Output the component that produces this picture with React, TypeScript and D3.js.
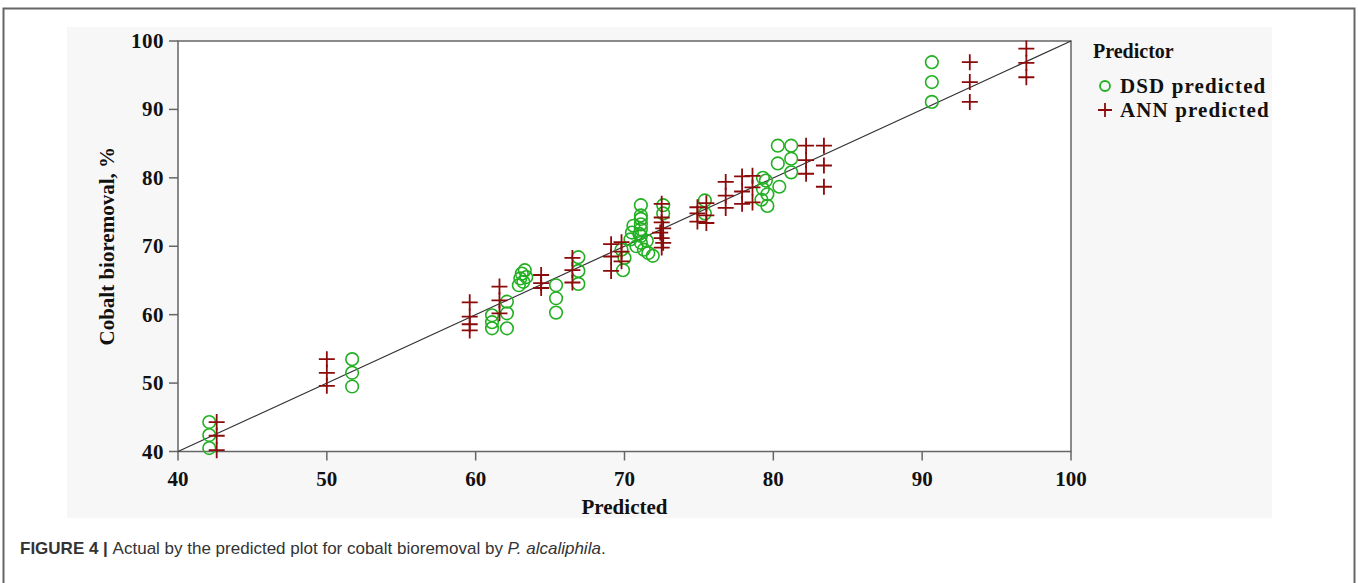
import React from 'react';
import * as d3 from 'd3';

// values (x = predicted, y = actual cobalt bioremoval %)
const dsdPredicted = [
  42.1, 42.1, 42.1,
  51.7, 51.7, 51.7,
  61.1, 61.1, 61.1, 62.1, 62.1, 62.1,
  62.9, 63.0, 63.1, 63.3, 63.4, 63.2,
  65.4, 65.4, 65.4,
  66.9, 66.9, 66.9,
  69.9, 70.0, 69.8,
  71.1, 71.1, 71.1, 71.1, 71.1, 71.1, 71.1, 70.6, 70.5, 70.4, 70.8, 71.3, 71.6, 71.9, 71.5, 71.0,
  72.6, 72.6,
  75.4, 75.4,
  79.3, 79.5, 79.3, 79.6, 79.2, 79.6, 80.4,
  80.3, 80.3, 81.2, 81.2, 81.2,
  90.65, 90.65, 90.65,
];
const dsdActual = [
  44.3, 42.4, 40.5,
  53.5, 51.5, 49.5,
  59.9, 58.9, 58.0, 61.9, 60.2, 58.0,
  64.3, 65.3, 66.0, 66.5, 65.5, 64.8,
  64.3, 62.4, 60.3,
  68.4, 66.4, 64.5,
  66.5, 68.3, 69.5,
  76.0, 74.5, 74.0, 73.2, 72.5, 71.5, 70.5, 73.0, 72.0, 71.0, 70.0, 69.5, 69.0, 68.6, 70.8, 71.8,
  76.0, 74.8,
  76.7, 74.8,
  80.0, 79.6, 78.4, 77.6, 76.8, 75.9, 78.7,
  84.7, 82.1, 84.7, 82.8, 80.8,
  96.9, 94.0, 91.1,
];
const annPredicted = [
  42.6, 42.6, 42.6,
  50.0, 50.0, 50.0,
  59.6, 59.6, 59.6, 59.6,
  61.6, 61.6, 61.6,
  64.4, 64.4, 64.4,
  66.5, 66.5, 66.5,
  69.1, 69.1, 69.1, 69.8, 69.8, 69.8,
  72.5, 72.5, 72.5, 72.6, 72.4, 72.5, 72.6, 72.5,
  74.9, 74.9, 74.9, 75.5, 75.5, 75.5,
  76.8, 76.8, 76.8, 77.9, 77.9, 77.9, 78.6, 78.6, 78.6,
  82.2, 82.2, 82.2, 83.4, 83.4, 83.4,
  93.2, 93.2, 93.2,
  97.0, 97.0, 97.0,
];
const annActual = [
  44.3, 42.3, 40.2,
  53.5, 51.5, 49.6,
  61.8, 59.7, 58.6, 57.7,
  64.1, 62.1, 60.2,
  65.8, 64.6, 63.9,
  68.3, 66.5, 64.7,
  70.3, 68.5, 66.4, 70.6, 69.2, 67.8,
  76.2, 74.2, 73.5, 72.6, 72.0, 71.2, 70.5, 69.8,
  75.7, 74.8, 73.6, 76.3, 74.5, 73.4,
  79.4, 77.4, 75.6, 80.2, 78.0, 76.2, 80.3, 78.6, 76.4,
  84.7, 82.6, 80.6, 84.7, 81.8, 78.7,
  96.9, 94.0, 91.1,
  98.9, 96.8, 94.7,
];
const xTicks = [40, 50, 60, 70, 80, 90, 100];
const yTicks = [40, 50, 60, 70, 80, 90, 100];
const legendLabels = ['DSD predicted', 'ANN predicted'];

const green = '#22b022';
const darkRed = '#8b0a0a';
const serif = '"Liberation Serif", "Times New Roman", serif';

const Cross = ({ x, y, s }: { x: number; y: number; s: number }) => (
  <path d={`M${x - s},${y}H${x + s}M${x},${y - s}V${y + s}`} stroke={darkRed} strokeWidth={1.8} fill="none" />
);

export default function App() {
  const left = 178, right = 1071, top = 41, bottom = 451.5;
  const x = d3.scaleLinear().domain([40, 100]).range([left, right]);
  const y = d3.scaleLinear().domain([40, 100]).range([bottom, top]);

  return (
    <div style={{ position: 'absolute', left: 0, top: 0 }}>
      <svg width={1358} height={583} style={{ display: 'block', background: '#fff' }}>
        {/* outer figure frame */}
        <path d="M3.5,600V8.5H1354.5V600" fill="none" stroke="#666" strokeWidth={2} />
        {/* grey panel */}
        <rect x={67} y={27} width={1205} height={491} fill="#f7f7f7" />
        <rect x={left} y={top} width={right - left} height={bottom - top} fill="#fff" stroke="#666" strokeWidth={1.5} />

        {/* ticks */}
        {xTicks.map(t => (
          <g key={'x' + t}>
            <line x1={x(t)} x2={x(t)} y1={bottom} y2={bottom + 9} stroke="#666" strokeWidth={1.5} />
            <text x={x(t)} y={bottom + 34} textAnchor="middle" fontFamily={serif} fontWeight="bold" fontSize={21} fill="#111">{t}</text>
          </g>
        ))}
        {yTicks.map(t => (
          <g key={'y' + t}>
            <line x1={left - 9} x2={left} y1={y(t)} y2={y(t)} stroke="#666" strokeWidth={1.5} />
            <text x={left - 14} y={y(t) + 7} textAnchor="end" fontFamily={serif} fontWeight="bold" fontSize={21} fill="#111" letterSpacing={0.5}>{t}</text>
          </g>
        ))}

        {/* identity line */}
        <line x1={x(40)} y1={y(40)} x2={x(100)} y2={y(100)} stroke="#333" strokeWidth={1.2} />

        {/* points */}
        {dsdPredicted.map((p, i) => (
          <circle key={'d' + i} cx={x(p)} cy={y(dsdActual[i])} r={6.3} fill="none" stroke={green} strokeWidth={1.6} />
        ))}
        {annPredicted.map((p, i) => (
          <Cross key={'a' + i} x={x(p)} y={y(annActual[i])} s={8} />
        ))}

        {/* axis titles */}
        <text x={(left + right) / 2} y={514} textAnchor="middle" fontFamily={serif} fontWeight="bold" fontSize={21} fill="#111">Predicted</text>
        <text transform={`translate(114,${(top + bottom) / 2}) rotate(-90)`} textAnchor="middle" fontFamily={serif} fontWeight="bold" fontSize={21} fill="#111">Cobalt bioremoval, %</text>

        {/* legend */}
        <text x={1093} y={58} fontFamily={serif} fontWeight="bold" fontSize={20} fill="#111">Predictor</text>
        <circle cx={1105} cy={86} r={5} fill="none" stroke={green} strokeWidth={1.8} />
        <text x={1120} y={93} fontFamily={serif} fontWeight="bold" fontSize={21} fill="#111" letterSpacing={1.1}>{legendLabels[0]}</text>
        <Cross x={1105} y={110} s={7} />
        <text x={1120} y={117} fontFamily={serif} fontWeight="bold" fontSize={21} fill="#111" letterSpacing={1.1}>{legendLabels[1]}</text>

        {/* caption */}
        <text x={20} y={554} fontFamily='"Liberation Sans", Arial, sans-serif' fontSize={17} fill="#333">
          <tspan fontWeight="bold">FIGURE 4 | </tspan>
          <tspan>Actual by the predicted plot for cobalt bioremoval by </tspan>
          <tspan fontStyle="italic">P. alcaliphila</tspan>
          <tspan>.</tspan>
        </text>
      </svg>
    </div>
  );
}
